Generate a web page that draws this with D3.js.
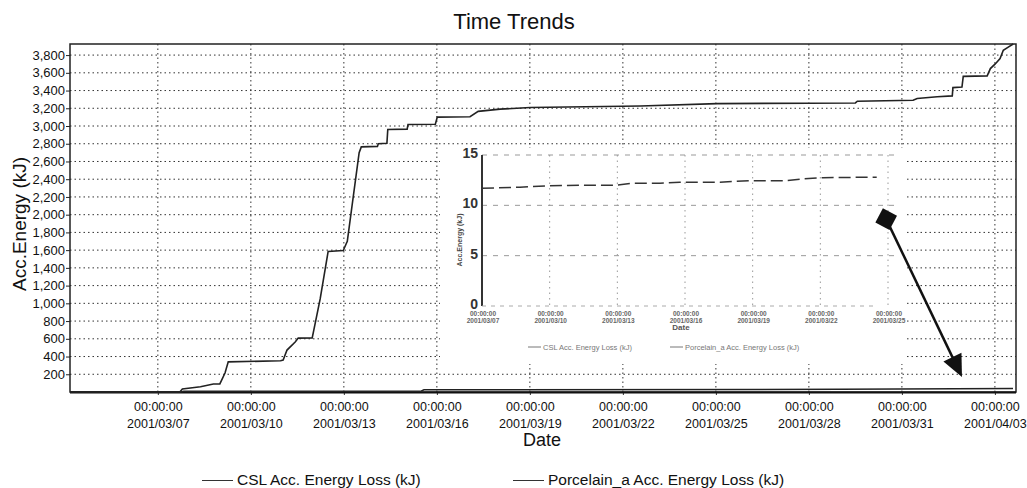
<!DOCTYPE html>
<html>
<head>
<meta charset="utf-8">
<script src="https://cdn.jsdelivr.net/npm/d3@7"></script>
<style>
  body { margin: 0; background: #fff; }
  svg { font-family: "Liberation Sans", Arial, sans-serif; display: block; }
</style>
</head>
<body>
<div id="chart"></div>
<script>
// ---- data ----
const cslDates = [
  "2001-03-04 04:00", "2001-03-07 17:00", "2001-03-07 19:00", "2001-03-08 09:00",
  "2001-03-08 19:00", "2001-03-09 00:00", "2001-03-09 04:00", "2001-03-09 06:30",
  "2001-03-10 23:00", "2001-03-11 01:00", "2001-03-11 04:00", "2001-03-11 10:30",
  "2001-03-11 12:40", "2001-03-11 23:30", "2001-03-12 05:40", "2001-03-12 11:50",
  "2001-03-12 23:30", "2001-03-13 02:40", "2001-03-13 11:50", "2001-03-13 13:30",
  "2001-03-14 02:00", "2001-03-14 02:40", "2001-03-14 09:20", "2001-03-14 10:00",
  "2001-03-15 01:00", "2001-03-15 01:40", "2001-03-15 22:50", "2001-03-16 00:20",
  "2001-03-17 01:40", "2001-03-17 08:00", "2001-03-18 01:00", "2001-03-19 00:15",
  "2001-03-22 13:30", "2001-03-25 01:00", "2001-03-29 12:00", "2001-03-29 13:30",
  "2001-03-31 08:40", "2001-03-31 11:50", "2001-04-01 03:20", "2001-04-01 15:00",
  "2001-04-01 15:30", "2001-04-01 22:30", "2001-04-01 23:30", "2001-04-02 18:00",
  "2001-04-02 20:30", "2001-04-03 00:15", "2001-04-03 04:00", "2001-04-03 06:30",
  "2001-04-03 10:20", "2001-04-03 14:10"
];
const cslEnergy = [
  0, 0, 34, 60,
  90, 92, 214, 340,
  352, 360, 473, 567,
  608, 610, 1050, 1585,
  1595, 1700, 2700, 2765,
  2770, 2800, 2805, 2960,
  2965, 3017, 3020, 3100,
  3105, 3165, 3190, 3208,
  3225, 3253, 3260, 3280,
  3290, 3310, 3330, 3340,
  3433, 3440, 3560, 3565,
  3648, 3700, 3760, 3854,
  3890, 3925
];

const porcelainDates = ["2001-03-04 04:00", "2001-03-07 18:00", "2001-03-07 20:00",
  "2001-03-15 12:00", "2001-03-15 14:00", "2001-03-29 00:00", "2001-04-03 14:00"];
const porcelainEnergy = [0, 0, 8, 12, 25, 30, 40];

const xTickDates = ["2001-03-07", "2001-03-10", "2001-03-13", "2001-03-16", "2001-03-19",
  "2001-03-22", "2001-03-25", "2001-03-28", "2001-03-31", "2001-04-03"];
const yTicks = [200, 400, 600, 800, 1000, 1200, 1400, 1600, 1800, 2000,
  2200, 2400, 2600, 2800, 3000, 3200, 3400, 3600, 3800];

// inset (zoom on the porcelain curve)
const insetDates = ["2001-03-07 00:00", "2001-03-08 16:20", "2001-03-10 00:15", "2001-03-11 11:30",
  "2001-03-12 23:30", "2001-03-13 16:30", "2001-03-14 21:20", "2001-03-15 18:30",
  "2001-03-17 13:10", "2001-03-18 21:00", "2001-03-20 10:20", "2001-03-21 02:10",
  "2001-03-22 02:40", "2001-03-24 12:00"];
const insetEnergy = [11.7, 11.8, 11.95, 12.0, 12.0, 12.2, 12.2, 12.3, 12.3, 12.45, 12.45, 12.6, 12.75, 12.8];
const insetCslDates = ["2001-03-07 00:00", "2001-03-24 12:00"];
const insetCslEnergy = [0, 0];
const insetXTicks = ["2001-03-07", "2001-03-10", "2001-03-13", "2001-03-16", "2001-03-19",
  "2001-03-22", "2001-03-25"];
const insetYTicks = [0, 5, 10, 15];

// arrow annotation, in main chart coordinates
const arrowFrom = ["2001-03-30 11:50", 1950];
const arrowTo = ["2001-04-01 22:30", 169];

// ---- layout ----
const width = 1027;
const height = 488;
const margin = { top: 44, right: 11, bottom: 96, left: 70 };
const plotW = width - margin.left - margin.right;
const plotH = height - margin.top - margin.bottom;

const parseTime = d3.timeParse("%Y-%m-%d %H:%M");
const parseDay = d3.timeParse("%Y-%m-%d");
const formatDay = d3.timeFormat("%Y/%m/%d");

const svg = d3.select("#chart")
    .append("svg")
    .attr("width", width)
    .attr("height", height);

svg.append("rect").attr("width", width).attr("height", height).attr("fill", "#fff");

const x = d3.scaleTime()
    .domain([parseTime("2001-03-04 04:00"), parseTime("2001-04-03 16:20")])
    .range([margin.left, margin.left + plotW]);

const y = d3.scaleLinear()
    .domain([0, 3925])
    .range([margin.top + plotH, margin.top]);

// title
svg.append("text")
    .attr("x", 514).attr("y", 29)
    .attr("text-anchor", "middle")
    .attr("font-size", 22)
    .attr("fill", "#111")
    .text("Time Trends");

// gridlines
const grid = svg.append("g").attr("class", "grid")
    .attr("stroke", "#333")
    .attr("stroke-width", 1)
    .attr("stroke-dasharray", "1.5,3");

grid.selectAll("line.h")
    .data(yTicks)
    .enter()
    .append("line")
    .attr("class", "h")
    .attr("x1", margin.left).attr("x2", margin.left + plotW)
    .attr("y1", d => y(d)).attr("y2", d => y(d));

grid.selectAll("line.v")
    .data(xTickDates.map(parseDay))
    .enter()
    .append("line")
    .attr("class", "v")
    .attr("x1", d => x(d)).attr("x2", d => x(d))
    .attr("y1", margin.top).attr("y2", margin.top + plotH);

// y axis
const yAxis = svg.append("g")
    .attr("transform", `translate(${margin.left},0)`)
    .call(d3.axisLeft(y).tickValues(yTicks).tickSize(4).tickFormat(d3.format(",")));
yAxis.select(".domain").remove();
yAxis.selectAll("line").attr("stroke", "#222");
yAxis.selectAll("text")
    .attr("font-size", 13)
    .attr("fill", "#111")
    .attr("x", -5);

// x axis
const xAxis = svg.append("g")
    .attr("transform", `translate(0,${margin.top + plotH})`)
    .call(d3.axisBottom(x).tickValues(xTickDates.map(parseDay)).tickSize(3).tickFormat(""));
xAxis.select(".domain").remove();
xAxis.selectAll("line").attr("stroke", "#333");
xAxis.selectAll(".tick").each(function (d) {
    const t = d3.select(this).append("text")
        .attr("text-anchor", "middle")
        .attr("font-size", 12.5)
        .attr("fill", "#111");
    t.append("tspan").attr("x", 0).attr("y", 19).text("00:00:00");
    t.append("tspan").attr("x", 0).attr("y", 35.5).text(formatDay(d));
});

// frame
svg.append("rect")
    .attr("x", margin.left).attr("y", margin.top)
    .attr("width", plotW).attr("height", plotH)
    .attr("fill", "none")
    .attr("stroke", "#222")
    .attr("stroke-width", 1.5);
svg.append("line")
    .attr("x1", margin.left).attr("x2", margin.left + plotW)
    .attr("y1", margin.top + plotH + 0.5).attr("y2", margin.top + plotH + 0.5)
    .attr("stroke", "#111").attr("stroke-width", 2);

// axis titles
svg.append("text")
    .attr("transform", `translate(26,224) rotate(-90)`)
    .attr("text-anchor", "middle")
    .attr("font-size", 19)
    .attr("fill", "#111")
    .text("Acc.Energy (kJ)");

svg.append("text")
    .attr("x", 542).attr("y", 446)
    .attr("text-anchor", "middle")
    .attr("font-size", 18)
    .attr("fill", "#111")
    .text("Date");

// series lines
const line = d3.line()
    .x(d => x(d[0]))
    .y(d => y(d[1]));

const cslData = cslDates.map((d, i) => [parseTime(d), cslEnergy[i]]);
const porcelainData = porcelainDates.map((d, i) => [parseTime(d), porcelainEnergy[i]]);

svg.append("path")
    .datum(porcelainData)
    .attr("d", line)
    .attr("fill", "none")
    .attr("stroke", "#222")
    .attr("stroke-width", 1.5);

svg.append("path")
    .datum(cslData)
    .attr("d", line)
    .attr("fill", "none")
    .attr("stroke", "#222")
    .attr("stroke-width", 1.6);

// ---- inset chart pasted on top ----
const inset = svg.append("g").attr("class", "inset");
inset.append("rect")
    .attr("x", 440).attr("y", 148)
    .attr("width", 465).attr("height", 216)
    .attr("fill", "#fff");

const ix = d3.scaleTime()
    .domain([parseDay("2001-03-07"), parseDay("2001-03-25")])
    .range([482, 888]);
const iy = d3.scaleLinear()
    .domain([0, 15])
    .range([306, 155]);

inset.selectAll("line.ih")
    .data(insetYTicks.filter(d => d > 0))
    .enter()
    .append("line")
    .attr("x1", 482).attr("x2", 895)
    .attr("y1", d => iy(d)).attr("y2", d => iy(d))
    .attr("stroke", "#999")
    .attr("stroke-dasharray", "5,6");

inset.selectAll("line.iv")
    .data(insetXTicks.slice(1).map(parseDay))
    .enter()
    .append("line")
    .attr("x1", d => ix(d)).attr("x2", d => ix(d))
    .attr("y1", 155).attr("y2", 306)
    .attr("stroke", "#999")
    .attr("stroke-dasharray", "1.5,4");

inset.append("line")
    .attr("x1", 482).attr("x2", 482)
    .attr("y1", iy(15)).attr("y2", iy(0))
    .attr("stroke", "#333").attr("stroke-width", 2);

inset.selectAll("text.iyt")
    .data(insetYTicks)
    .enter()
    .append("text")
    .attr("x", 478)
    .attr("y", d => iy(d) + 3)
    .attr("text-anchor", "end")
    .attr("font-size", 14)
    .attr("font-weight", "bold")
    .attr("fill", "#333")
    .text(d => d);

inset.selectAll("g.ixt")
    .data(insetXTicks.map(parseDay))
    .enter()
    .append("text")
    .attr("text-anchor", "middle")
    .attr("font-size", 6.5)
    .attr("font-weight", "bold")
    .attr("fill", "#666")
    .each(function (d) {
        const t = d3.select(this);
        t.append("tspan").attr("x", ix(d) + 1).attr("y", 316).text("00:00:00");
        t.append("tspan").attr("x", ix(d) + 1).attr("y", 322.5).text(formatDay(d));
    });

inset.append("text")
    .attr("x", 681).attr("y", 330)
    .attr("text-anchor", "middle")
    .attr("font-size", 8)
    .attr("font-weight", "bold")
    .attr("fill", "#555")
    .text("Date");

inset.append("text")
    .attr("transform", "translate(462,240) rotate(-90)")
    .attr("text-anchor", "middle")
    .attr("font-size", 7)
    .attr("font-weight", "bold")
    .attr("fill", "#444")
    .text("Acc.Energy (kJ)");

const iline = d3.line()
    .x(d => ix(d[0]))
    .y(d => iy(d[1]));

inset.append("path")
    .datum(insetCslDates.map((d, i) => [parseTime(d), insetCslEnergy[i]]))
    .attr("d", iline)
    .attr("fill", "none")
    .attr("stroke", "#aaa")
    .attr("stroke-dasharray", "4,5");

inset.append("path")
    .datum(insetDates.map((d, i) => [parseTime(d), insetEnergy[i]]))
    .attr("d", iline)
    .attr("fill", "none")
    .attr("stroke", "#333")
    .attr("stroke-width", 1.5)
    .attr("stroke-dasharray", "12,5");

// inset legend
const insetLegend = [
    { label: "CSL Acc. Energy Loss (kJ)", x: 528 },
    { label: "Porcelain_a Acc. Energy Loss (kJ)", x: 670 }
];
insetLegend.forEach(l => {
    inset.append("line")
        .attr("x1", l.x).attr("x2", l.x + 13)
        .attr("y1", 347).attr("y2", 347)
        .attr("stroke", "#777");
    inset.append("text")
        .attr("x", l.x + 15).attr("y", 349.5)
        .attr("font-size", 7.5)
        .attr("fill", "#777")
        .text(l.label);
});

// ---- arrow annotation ----
const ax0 = x(parseTime(arrowFrom[0])), ay0 = y(arrowFrom[1]);
const ax1 = x(parseTime(arrowTo[0])), ay1 = y(arrowTo[1]);
const ang = Math.atan2(ay1 - ay0, ax1 - ax0);
const headLen = 22;

svg.append("line")
    .attr("x1", ax0).attr("y1", ay0)
    .attr("x2", ax1 - headLen * 0.8 * Math.cos(ang))
    .attr("y2", ay1 - headLen * 0.8 * Math.sin(ang))
    .attr("stroke", "#111")
    .attr("stroke-width", 2.5);

svg.append("rect")
    .attr("x", -8).attr("y", -8)
    .attr("width", 16).attr("height", 16)
    .attr("transform", `translate(${ax0},${ay0}) rotate(28)`)
    .attr("fill", "#111");

svg.append("path")
    .attr("d", `M0,0L${-headLen},${-10}L${-headLen},${10}Z`)
    .attr("transform", `translate(${ax1},${ay1}) rotate(${ang * 180 / Math.PI})`)
    .attr("fill", "#111");

// ---- legend ----
const legend = [
    { label: "CSL Acc. Energy Loss (kJ)", x: 202 },
    { label: "Porcelain_a Acc. Energy Loss (kJ)", x: 513 }
];
legend.forEach(l => {
    svg.append("line")
        .attr("x1", l.x).attr("x2", l.x + 31)
        .attr("y1", 480.5).attr("y2", 480.5)
        .attr("stroke", "#333")
        .attr("stroke-width", 1);
    svg.append("text")
        .attr("x", l.x + 35).attr("y", 484.5)
        .attr("font-size", 15.5)
        .attr("fill", "#111")
        .text(l.label);
});
</script>
</body>
</html>
